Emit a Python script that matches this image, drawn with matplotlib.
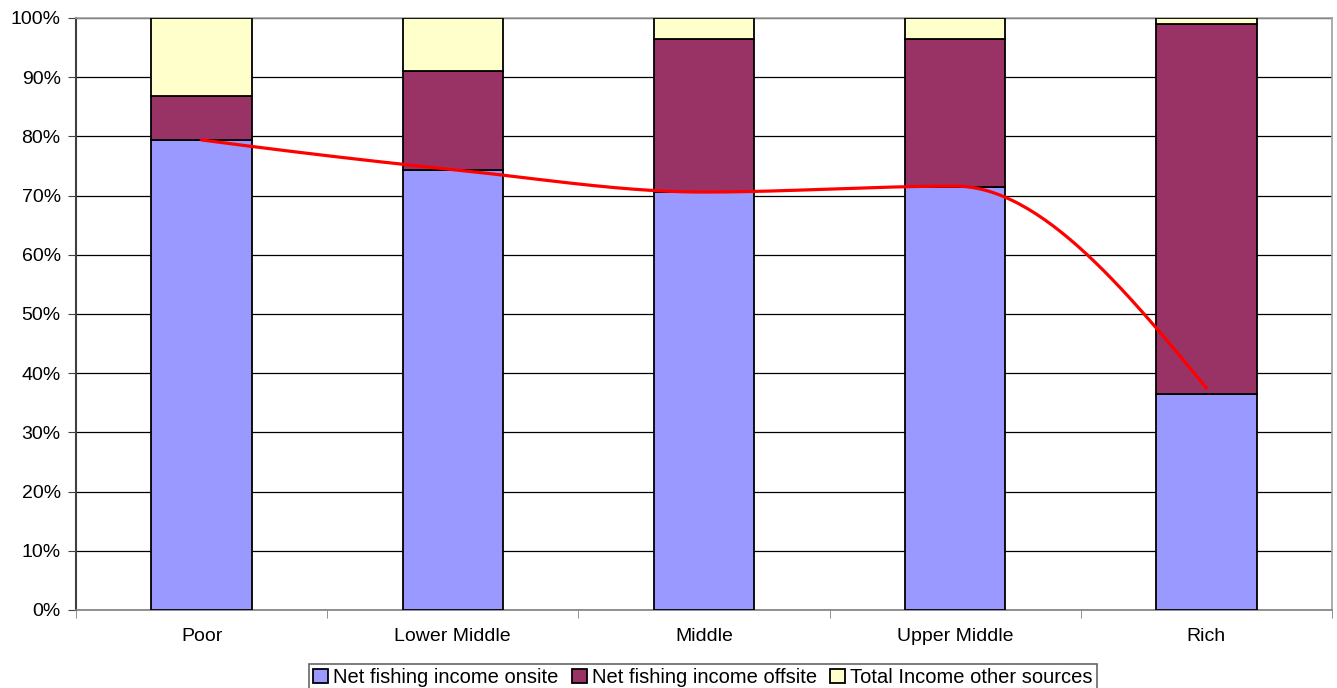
import matplotlib
matplotlib.use("Agg")
import matplotlib.pyplot as plt
import numpy as np
from matplotlib.ticker import FuncFormatter, FixedLocator

plt.rcParams['font.family'] = ['Liberation Sans', 'DejaVu Sans']

categories = ["Poor", "Lower Middle", "Middle", "Upper Middle", "Rich"]
onsite = [79.4, 74.3, 70.6, 71.5, 36.5]
offsite = [7.4, 16.7, 25.9, 25.0, 62.5]
other = [13.2, 9.0, 3.5, 3.5, 1.0]
line_vals = [79.4, 74.4, 70.6, 71.6, 37.5]
series_names = ["Net fishing income onsite", "Net fishing income offsite", "Total Income other sources"]
colors = ["#9999FF", "#993366", "#FFFFCC"]

fig = plt.figure(figsize=(13.37, 6.88), dpi=100)
ax = fig.add_axes([76/1337, 1-610/688, (1332-76)/1337, (610-18)/688])

x = np.arange(len(categories))
w = 0.4
bottoms = np.zeros(len(categories))
handles = []
for vals, c, name in zip([onsite, offsite, other], colors, series_names):
    b = ax.bar(x, vals, w, bottom=bottoms, color=c, edgecolor="black", linewidth=1.3, label=name, zorder=3)
    handles.append(b)
    bottoms += np.array(vals)

# monotone cubic (Fritsch-Carlson) smoothing for rendering the smoothed line
def pchip(xs, ys, n=60):
    xs = np.asarray(xs, float); ys = np.asarray(ys, float)
    h = np.diff(xs); d = np.diff(ys) / h
    m = np.zeros_like(ys)
    for k in range(1, len(xs)-1):
        if d[k-1]*d[k] <= 0:
            m[k] = 0
        else:
            w1 = 2*h[k] + h[k-1]; w2 = h[k] + 2*h[k-1]
            m[k] = (w1 + w2) / (w1/d[k-1] + w2/d[k])
    def endslope(h0, h1, d0, d1):
        s = ((2*h0 + h1)*d0 - h0*d1) / (h0 + h1)
        if np.sign(s) != np.sign(d0):
            s = 0
        elif np.sign(d0) != np.sign(d1) and abs(s) > abs(3*d0):
            s = 3*d0
        return s
    m[0] = endslope(h[0], h[1], d[0], d[1])
    m[-1] = endslope(h[-1], h[-2], d[-1], d[-2])
    ox, oy = [], []
    for k in range(len(xs)-1):
        t = np.linspace(0, 1, n)
        h00 = 2*t**3 - 3*t**2 + 1; h10 = t**3 - 2*t**2 + t
        h01 = -2*t**3 + 3*t**2; h11 = t**3 - t**2
        ox.extend(xs[k] + t*h[k])
        oy.extend(h00*ys[k] + h10*h[k]*m[k] + h01*ys[k+1] + h11*h[k]*m[k+1])
    return np.array(ox), np.array(oy)

sx, sy = pchip(x, line_vals)
ax.plot(sx, sy, color="#FF0000", linewidth=2.3, zorder=5, solid_capstyle='round')

ax.set_xlim(-0.5, len(categories)-0.5)
ax.set_ylim(0, 100)
ax.yaxis.set_major_locator(FixedLocator(np.arange(0, 101, 10)))
ax.yaxis.set_major_formatter(FuncFormatter(lambda v, p: f"{int(v)}%"))
ax.yaxis.grid(True, color="black", linewidth=0.9, zorder=0)
ax.set_axisbelow(True)

ax.set_xticks(x)
ax.set_xticklabels(categories)
ax.set_xticks(np.arange(-0.5, len(categories)), minor=True)
ax.tick_params(axis='x', which='major', length=0, pad=13, labelsize=14)
ax.tick_params(axis='x', which='minor', length=6, direction='out', color='#808080')
ax.tick_params(axis='y', which='major', length=6, direction='out', labelsize=14, pad=5, color='#404040')

for s in ['top', 'right']:
    ax.spines[s].set_color('#A0A0A0')
    ax.spines[s].set_linewidth(1.2)
ax.spines['left'].set_color('#404040')
ax.spines['left'].set_linewidth(1.5)
ax.spines['bottom'].set_color('#808080')
ax.spines['bottom'].set_linewidth(1.2)

leg = fig.legend(handles=handles, labels=series_names, loc='upper center', bbox_to_anchor=(703/1337, 1-664/688),
                 ncol=3, frameon=True, fontsize=14.5, handlelength=0.75, handleheight=0.75,
                 handletextpad=0.25, columnspacing=0.65, borderpad=0.2, fancybox=False, borderaxespad=0.0)
leg.get_frame().set_edgecolor('#404040')
leg.get_frame().set_linewidth(1.2)

fig.savefig("out.png", dpi=100)
